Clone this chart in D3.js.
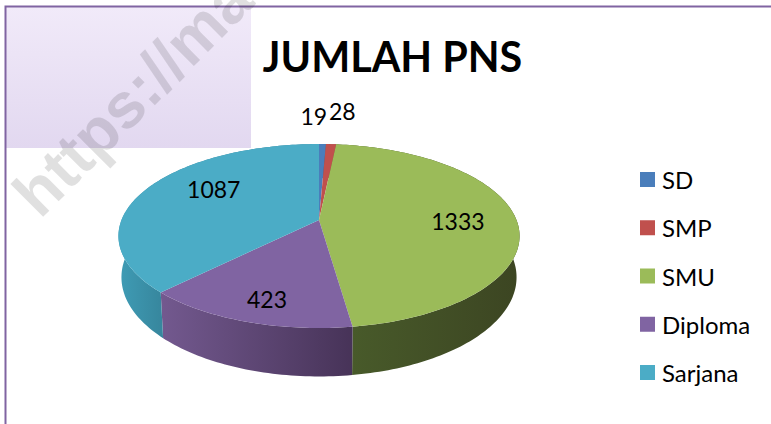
<!DOCTYPE html>
<html>
<head>
<meta charset="utf-8">
<script src="https://cdn.jsdelivr.net/npm/d3@7"></script>
<style>
    html, body { margin: 0; background: #fff; overflow: hidden; }
    text { font-family: Lato, "Open Sans", sans-serif; fill: #000; }
</style>
</head>
<body>
<script>
const categories = ["SD", "SMP", "SMU", "Diploma", "Sarjana"];
const values = [19, 28, 1333, 423, 1087];
const topColors = ["#4a7ebb", "#c0504d", "#9bbb59", "#8064a2", "#4bacc6"];
const sideLeft = ["#3a628f", "#8f3b39", "#485a2a", "#73598f", "#3f9cb5"];
const sideRight = ["#3a628f", "#8f3b39", "#3c4522", "#473358", "#37879e"];

const width = 771, height = 424;
const cx = 319, cy = 220;      // apex of the pie on screen
const rx = 197.5, ry = 89.2;   // radii of the tilted disc
const tilt = 0.174;            // perspective strength
const depth = 40;

// label placement: radius fraction along the slice middle, then a small nudge
const labelRadius = [1.12, 1.12, 0.7, 0.7, 0.7];
const labelNudge = [[-9, -20], [10, -26], [1, 2], [-3, 12], [17, -8]];

const svg = d3.select("body").append("svg")
    .attr("width", width)
    .attr("height", height);

const defs = svg.append("defs");

const bgGrad = defs.append("linearGradient")
    .attr("id", "bgGrad")
    .attr("x1", 0).attr("x2", 0).attr("y1", 0).attr("y2", 1);
bgGrad.append("stop").attr("offset", 0).attr("stop-color", "#f1eaf9");
bgGrad.append("stop").attr("offset", 1).attr("stop-color", "#e2d8f0");

defs.append("clipPath").attr("id", "pieClip")
    .append("rect").attr("width", width).attr("height", 377);

// purple corner panel and frame
svg.append("rect")
    .attr("x", 6).attr("y", 7)
    .attr("width", 245).attr("height", 141)
    .attr("fill", "url(#bgGrad)");

svg.append("path")
    .attr("d", d3.line()([[5.5, height], [5.5, 6.5], [width, 6.5]]))
    .attr("fill", "none")
    .attr("stroke", "#8064a2")
    .attr("stroke-width", 2);

// pie angle (0 = top, clockwise) to screen position, with the near edge larger
function project(angle, r, drop, shrink) {
    const u = Math.sin(angle) * r;
    const v = -Math.cos(angle) * r;
    const w = 1 - tilt * v;
    return [
        cx + rx * (shrink || 1) * u / w,
        cy + ry * v / w + (drop || 0) / w
    ];
}

function rimPoints(start, end, drop, shrink) {
    const steps = Math.max(2, Math.ceil((end - start) / 0.02));
    return d3.range(steps + 1).map(i => project(start + (end - start) * i / steps, 1, drop, shrink));
}

const slices = d3.pie().sort(null).value(d => d)(values);
const line = d3.line();

const pieGroup = svg.append("g").attr("clip-path", "url(#pieClip)");

// side wall first, the top face covers whatever is behind
slices.forEach((s, i) => {
    const upper = rimPoints(s.startAngle, s.endAngle, 0, 1);
    const lower = rimPoints(s.startAngle, s.endAngle, depth, 0.985);
    const xs = d3.extent(upper.filter(p => p[1] > cy + 16), p => p[0]);

    const grad = defs.append("linearGradient")
        .attr("id", "side" + i)
        .attr("gradientUnits", "userSpaceOnUse")
        .attr("x1", xs[0] || cx).attr("x2", xs[1] || cx + 1)
        .attr("y1", 0).attr("y2", 0);
    grad.append("stop").attr("offset", 0).attr("stop-color", sideLeft[i]);
    grad.append("stop").attr("offset", 1).attr("stop-color", sideRight[i]);

    pieGroup.append("path")
        .attr("d", line(upper.concat(lower.reverse())) + "Z")
        .attr("fill", "url(#side" + i + ")");
});

slices.forEach((s, i) => {
    const rim = rimPoints(s.startAngle, s.endAngle, 0, 1);
    pieGroup.append("path")
        .attr("d", line([[cx, cy]].concat(rim)) + "Z")
        .attr("fill", topColors[i]);
});

// value labels
slices.forEach((s, i) => {
    const p = project((s.startAngle + s.endAngle) / 2, labelRadius[i]);
    svg.append("text")
        .attr("x", p[0] + labelNudge[i][0])
        .attr("y", p[1] + labelNudge[i][1])
        .attr("text-anchor", "middle")
        .attr("dominant-baseline", "central")
        .attr("font-size", 23)
        .text(values[i]);
});

svg.append("text")
    .attr("x", 392.5)
    .attr("y", 72)
    .attr("text-anchor", "middle")
    .attr("font-size", 41.3)
    .attr("font-weight", 700)
    .text("JUMLAH PNS");

// legend
const legendY = d3.scalePoint().domain(categories).range([179.5, 372.5]);

const legend = svg.selectAll(".legendItem")
    .data(categories)
    .enter()
    .append("g")
    .attr("class", "legendItem")
    .attr("transform", d => "translate(640," + legendY(d) + ")");

legend.append("rect")
    .attr("y", -7.5)
    .attr("width", 15)
    .attr("height", 15)
    .attr("fill", (d, i) => topColors[i]);

legend.append("text")
    .attr("x", 22)
    .attr("dominant-baseline", "central")
    .attr("font-size", 24)
    .text(d => d);

// watermark over everything
svg.append("text")
    .attr("transform", "translate(40,220) rotate(-45)")
    .attr("font-size", 64)
    .attr("font-weight", 700)
    .style("font-family", '"Liberation Sans", sans-serif')
    .style("fill", "#000")
    .attr("fill-opacity", 0.12)
    .text("https://ma");
</script>
</body>
</html>
